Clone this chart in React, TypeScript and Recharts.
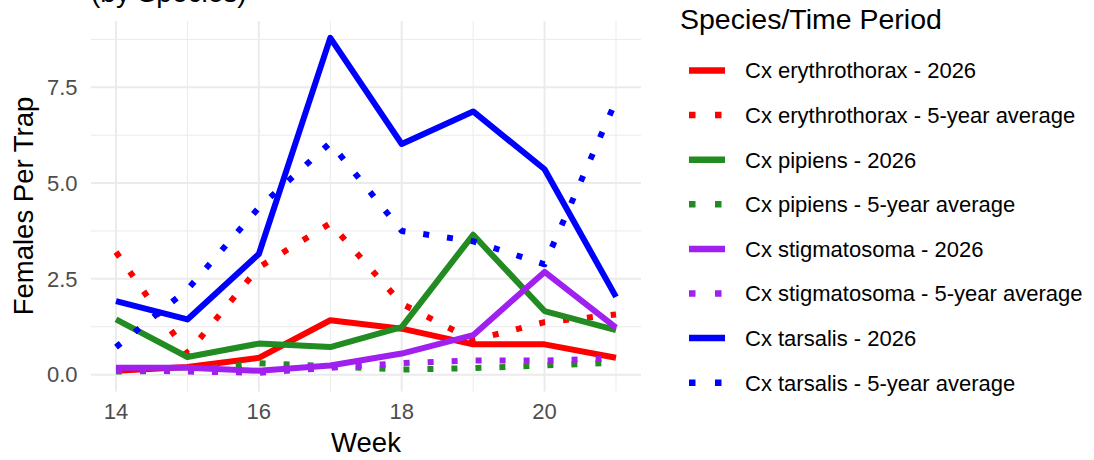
import { Line, LineChart, ReferenceLine, XAxis, YAxis } from "recharts";

const weeks = [14, 15, 16, 17, 18, 19, 20, 21];

const erythrothorax2026 = [0.1, 0.2, 0.44, 1.42, 1.2, 0.79, 0.79, 0.44];
const erythrothoraxAvg = [3.2, 0.55, 2.8, 3.95, 1.85, 0.9, 1.37, 1.57];
const pipiens2026 = [1.44, 0.46, 0.81, 0.72, 1.24, 3.65, 1.66, 1.16];
const pipiensAvg = [0.08, 0.1, 0.3, 0.22, 0.13, 0.17, 0.24, 0.31];
const stigmatosoma2026 = [0.18, 0.18, 0.1, 0.24, 0.55, 1.03, 2.68, 1.23];
const stigmatosomaAvg = [0.12, 0.08, 0.05, 0.18, 0.3, 0.37, 0.37, 0.42];
const tarsalis2026 = [1.92, 1.44, 3.15, 8.79, 6.02, 6.87, 5.36, 2.03];
const tarsalisAvg = [0.72, 2.22, 4.36, 6.05, 3.75, 3.48, 2.88, 7.15];

const xTicks = [14, 16, 18, 20];
const yTicks = [0, 2.5, 5, 7.5];
const xMinor = [15, 17, 19, 21];
const yMinor = [1.25, 3.75, 6.25, 8.75];

const series = [
  { key: "ery26", name: "Cx erythrothorax - 2026", color: "#FF0000", dotted: false, values: erythrothorax2026 },
  { key: "eryAvg", name: "Cx erythrothorax - 5-year average", color: "#FF0000", dotted: true, values: erythrothoraxAvg },
  { key: "pip26", name: "Cx pipiens - 2026", color: "#228B22", dotted: false, values: pipiens2026 },
  { key: "pipAvg", name: "Cx pipiens - 5-year average", color: "#228B22", dotted: true, values: pipiensAvg },
  { key: "sti26", name: "Cx stigmatosoma - 2026", color: "#A020F0", dotted: false, values: stigmatosoma2026 },
  { key: "stiAvg", name: "Cx stigmatosoma - 5-year average", color: "#A020F0", dotted: true, values: stigmatosomaAvg },
  { key: "tar26", name: "Cx tarsalis - 2026", color: "#0000FF", dotted: false, values: tarsalis2026 },
  { key: "tarAvg", name: "Cx tarsalis - 5-year average", color: "#0000FF", dotted: true, values: tarsalisAvg },
];

const data = weeks.map((week, i) => {
  const row: Record<string, number> = { week };
  series.forEach((s) => {
    row[s.key] = s.values[i];
  });
  return row;
});

const font = '"Liberation Sans", Arial, sans-serif';
const grid = "#ebebeb";
const lw = 6;

export default function App() {
  return (
    <div style={{ position: "absolute", left: 0, top: 0, width: 1094, height: 460, background: "#fff", fontFamily: font }}>
      <LineChart
        width={1094}
        height={460}
        data={data}
        margin={{ top: 21, right: 453, bottom: 38.5, left: 31 }}
      >
        {yMinor.map((v) => (
          <ReferenceLine key={"ym" + v} y={v} stroke={grid} strokeWidth={1} />
        ))}
        {xMinor.map((v) => (
          <ReferenceLine key={"xm" + v} x={v} stroke={grid} strokeWidth={1} />
        ))}
        {yTicks.map((v) => (
          <ReferenceLine key={"y" + v} y={v} stroke={grid} strokeWidth={2} />
        ))}
        {xTicks.map((v) => (
          <ReferenceLine key={"x" + v} x={v} stroke={grid} strokeWidth={2} />
        ))}
        <XAxis
          dataKey="week"
          type="number"
          domain={[13.65, 21.35]}
          ticks={xTicks}
          allowDataOverflow
          height={30}
          axisLine={false}
          tickLine={false}
          tickSize={0}
          tickMargin={11.5}
          tick={{ fill: "#4d4d4d", fontSize: 22, fontFamily: font }}
        />
        <YAxis
          type="number"
          domain={[-0.44, 9.23]}
          ticks={yTicks}
          allowDataOverflow
          width={60}
          axisLine={false}
          tickLine={false}
          tickSize={0}
          tickMargin={13.5}
          tickFormatter={(v: number) => v.toFixed(1)}
          tick={{ fill: "#4d4d4d", fontSize: 22, fontFamily: font }}
        />
        {series.map((s) => (
          <Line
            key={s.key}
            type="linear"
            dataKey={s.key}
            stroke={s.color}
            strokeWidth={lw}
            strokeDasharray={s.dotted ? `${lw} ${lw * 3}` : undefined}
            strokeLinecap="butt"
            strokeLinejoin="round"
            dot={false}
            activeDot={false}
            isAnimationActive={false}
          />
        ))}
      </LineChart>
      <svg
        width={1094}
        height={460}
        style={{ position: "absolute", left: 0, top: 0, pointerEvents: "none" }}
        fontFamily={font}
      >
        <text x={91} y={1.5} fontSize={28} fill="#000">(by Species)</text>
        <text
          x={0}
          y={0}
          fontSize={27.5}
          fill="#000"
          textAnchor="middle"
          transform="translate(33 206) rotate(-90)"
        >
          Females Per Trap
        </text>
        <text x={366} y={452} fontSize={27.5} fill="#000" textAnchor="middle">Week</text>
        <text x={680} y={29} fontSize={28.5} fill="#000">Species/Time Period</text>
        {series.map((s, i) => {
          const cy = 70.5 + i * 44.6;
          return (
            <g key={s.key}>
              <line
                x1={689}
                x2={725}
                y1={cy}
                y2={cy}
                stroke={s.color}
                strokeWidth={6.5}
                strokeDasharray={s.dotted ? "6.5 19.5" : undefined}
              />
              <text x={745} y={cy} dy="0.36em" fontSize={22} fill="#000">{s.name}</text>
            </g>
          );
        })}
      </svg>
    </div>
  );
}
